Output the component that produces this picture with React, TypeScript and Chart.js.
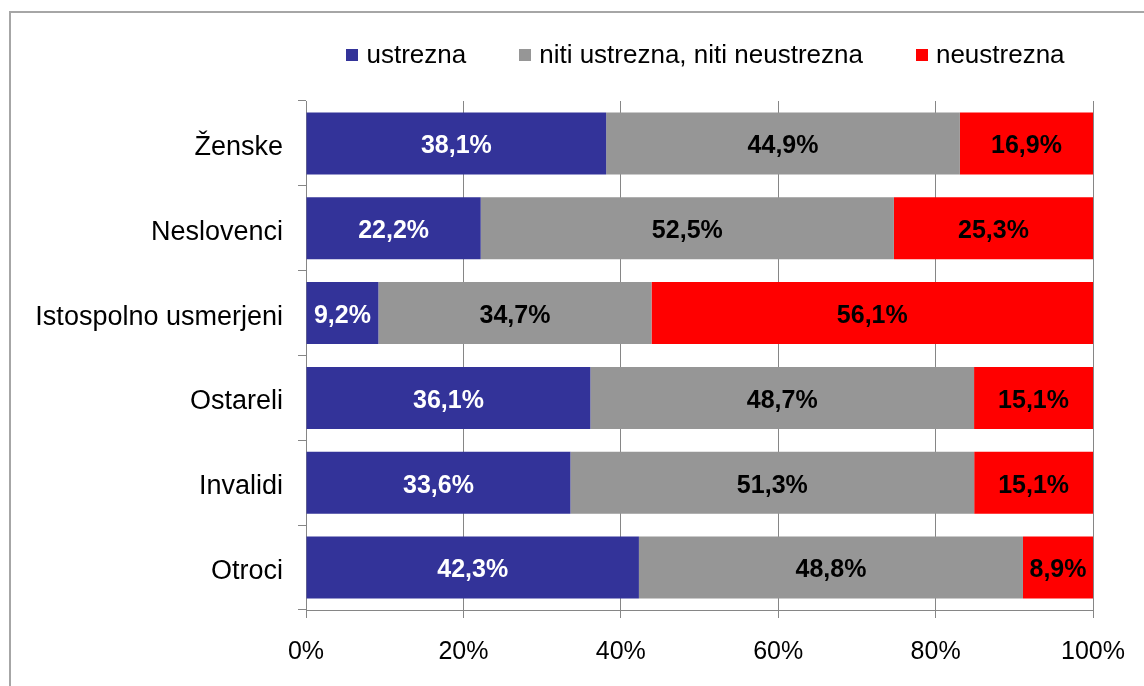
import React, { useEffect, useRef } from "react";
import { Chart, registerables } from "chart.js";

Chart.register(...registerables);

const categories = ["Ženske", "Neslovenci", "Istospolno usmerjeni", "Ostareli", "Invalidi", "Otroci"];
const seriesNames = ["ustrezna", "niti ustrezna, niti neustrezna", "neustrezna"];
const ustrezna = [38.1, 22.2, 9.2, 36.1, 33.6, 42.3];
const nitiNiti = [44.9, 52.5, 34.7, 48.7, 51.3, 48.8];
const neustrezna = [16.9, 25.3, 56.1, 15.1, 15.1, 8.9];
const xTickValues = [0, 20, 40, 60, 80, 100];
const seriesColors = ["#333399", "#969696", "#FF0000"];
const labelColors = ["#FFFFFF", "#000000", "#000000"];

const FONT = '"Liberation Sans", Arial, sans-serif';
const GRID = "#868686";

const seriesValues = [ustrezna, nitiNiti, neustrezna];
const rowSums = categories.map((_, i) => seriesValues.reduce((s, arr) => s + arr[i], 0));

const dataLabelPlugin = {
  id: "dataLabels",
  afterDatasetsDraw(chart: any) {
    const ctx = chart.ctx;
    ctx.save();
    ctx.font = `bold 25px ${FONT}`;
    ctx.textAlign = "center";
    ctx.textBaseline = "middle";
    chart.data.datasets.forEach((ds: any, di: number) => {
      const meta = chart.getDatasetMeta(di);
      meta.data.forEach((el: any, i: number) => {
        const raw = seriesValues[di][i];
        const p = el.getProps(["x", "y", "base"], true);
        ctx.fillStyle = labelColors[di];
        ctx.fillText(raw.toFixed(1).replace(".", ",") + "%", (p.x + p.base) / 2, p.y + 3);
      });
    });
    ctx.restore();
  },
};

const legendPlugin = {
  id: "topLegend",
  afterDraw(chart: any) {
    const ctx = chart.ctx;
    const area = chart.chartArea;
    ctx.save();
    ctx.font = `26px ${FONT}`;
    const box = 12;
    const gap = 8;
    const spacing = 53;
    const widths = chart.data.datasets.map((ds: any) => ctx.measureText(ds.label).width);
    const total =
      widths.reduce((a: number, w: number) => a + box + gap + w, 0) + spacing * (widths.length - 1);
    let x = (area.left + area.right) / 2 + 6 - total / 2;
    const y = 55;
    ctx.textBaseline = "middle";
    ctx.textAlign = "left";
    chart.data.datasets.forEach((ds: any, i: number) => {
      ctx.fillStyle = ds.backgroundColor;
      ctx.fillRect(Math.round(x), y - box / 2, box, box);
      x += box + gap;
      ctx.fillStyle = "#000000";
      ctx.fillText(ds.label, x, y + 1);
      x += widths[i] + spacing;
    });
    ctx.restore();
  },
};

export default function App() {
  const canvasRef = useRef<HTMLCanvasElement | null>(null);

  useEffect(() => {
    if (!canvasRef.current) return;
    const chart = new Chart(canvasRef.current, {
      type: "bar",
      data: {
        labels: categories,
        datasets: seriesNames.map((name, di) => ({
          label: name,
          data: seriesValues[di].map((v, i) => (v / rowSums[i]) * 100),
          backgroundColor: seriesColors[di],
          borderWidth: 0,
          categoryPercentage: 1,
          barPercentage: 0.73,
        })),
      },
      options: {
        indexAxis: "y",
        responsive: false,
        animation: false,
        devicePixelRatio: 1,
        layout: { padding: { top: 101, right: 50, bottom: 0, left: 0 } },
        plugins: {
          legend: { display: false },
          tooltip: { enabled: false },
        },
        scales: {
          x: {
            stacked: true,
            min: 0,
            max: 100,
            afterBuildTicks: (scale: any) => {
              scale.ticks = xTickValues.map((v) => ({ value: v }));
            },
            afterFit: (scale: any) => {
              scale.height = 76;
            },
            grid: {
              color: GRID,
              lineWidth: 1,
              drawTicks: true,
              tickLength: 8,
              tickColor: GRID,
            },
            border: { color: GRID, width: 1 },
            ticks: {
              padding: 19,
              color: "#000000",
              font: { family: FONT, size: 25 },
              callback: (v: any) => v + "%",
            },
          },
          y: {
            stacked: true,
            afterFit: (scale: any) => {
              scale.width = 306;
            },
            grid: {
              drawOnChartArea: false,
              offset: true,
              drawTicks: true,
              tickLength: 8,
              tickColor: GRID,
              color: GRID,
            },
            border: { color: GRID, width: 1 },
            ticks: {
              padding: 15,
              labelOffset: 4,
              color: "#000000",
              font: { family: FONT, size: 27 },
            },
          },
        },
      },
      plugins: [dataLabelPlugin, legendPlugin],
    } as any);
    return () => chart.destroy();
  }, []);

  return (
    <div style={{ position: "fixed", left: 0, top: 0, width: 1144, height: 686, background: "#fff", overflow: "hidden" }}>
      <canvas ref={canvasRef} width={1144} height={686} style={{ position: "absolute", left: 0, top: 0 }} />
      <div
        style={{
          position: "absolute",
          left: 9,
          top: 11,
          width: 1300,
          height: 800,
          border: "2px solid #A6A6A6",
          pointerEvents: "none",
        }}
      />
    </div>
  );
}
